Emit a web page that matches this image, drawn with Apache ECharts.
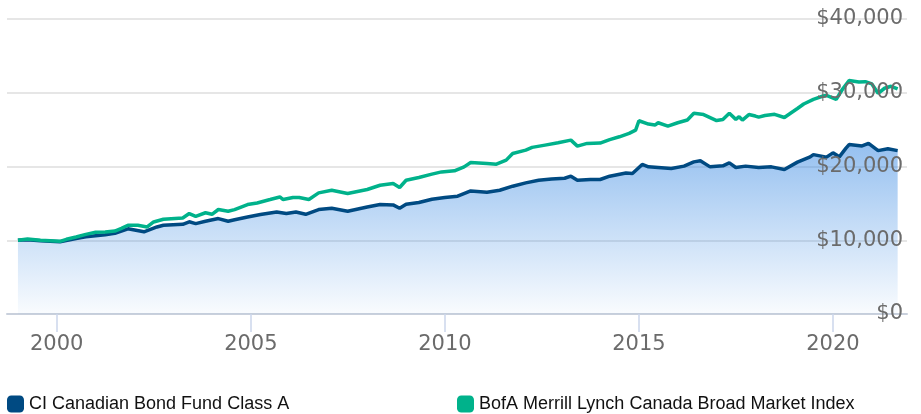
<!DOCTYPE html>
<html>
<head>
<meta charset="utf-8">
<script src="https://cdn.jsdelivr.net/npm/echarts@6/dist/echarts.min.js"></script>
<style>
  html, body { margin: 0; padding: 0; background: #fff; }
  #chart { width: 921px; height: 414px; }
</style>
</head>
<body>
<div id="chart"></div>
<script>
// Growth of $10,000 — fund vs. benchmark index
const seriesNames = ['CI Canadian Bond Fund Class A', 'BofA Merrill Lynch Canada Broad Market Index'];

const fundDates = ['1999-01','1999-04','1999-08','2000-02','2000-07','2000-10','2001-04','2001-07','2001-11','2002-04','2002-08','2002-10','2003-04','2003-06','2003-08','2003-11','2004-03','2004-06','2004-08','2004-12','2005-04','2005-09','2005-12','2006-03','2006-06','2006-10','2007-02','2007-07','2008-01','2008-05','2008-09','2008-11','2009-01','2009-05','2009-09','2010-01','2010-05','2010-09','2011-02','2011-06','2011-10','2012-02','2012-06','2012-10','2013-02','2013-04','2013-06','2013-10','2014-01','2014-04','2014-09','2014-11','2015-02','2015-04','2015-07','2015-11','2016-03','2016-06','2016-08','2016-11','2017-03','2017-05','2017-07','2017-10','2018-02','2018-06','2018-10','2019-02','2019-06','2019-07','2019-11','2020-01','2020-03','2020-05','2020-06','2020-10','2020-12','2021-03','2021-06','2021-09'];
const fundValues = [10000,10080,9920,9790,10220,10460,10760,10940,11550,11140,11800,12030,12160,12500,12260,12570,12940,12570,12780,13160,13480,13840,13620,13840,13520,14160,14340,13930,14510,14840,14790,14340,14880,15110,15560,15790,15970,16690,16510,16780,17330,17780,18140,18320,18410,18690,18140,18240,18240,18690,19130,19050,20280,19950,19870,19730,20050,20630,20770,19950,20090,20490,19870,20050,19870,19950,19600,20590,21310,21610,21270,21850,21310,22450,22970,22790,23130,22150,22400,22150];

const indexDates = ['1999-01','1999-04','1999-08','2000-02','2000-04','2000-07','2000-10','2001-01','2001-04','2001-07','2001-09','2001-11','2002-02','2002-05','2002-07','2002-10','2003-04','2003-06','2003-08','2003-11','2004-01','2004-03','2004-06','2004-08','2004-12','2005-03','2005-07','2005-10','2005-11','2006-02','2006-04','2006-07','2006-10','2007-02','2007-07','2008-01','2008-05','2008-09','2008-11','2009-01','2009-05','2009-09','2009-12','2010-04','2010-07','2010-09','2011-02','2011-05','2011-08','2011-10','2012-02','2012-04','2012-08','2012-12','2013-04','2013-06','2013-09','2014-01','2014-04','2014-07','2014-10','2014-12','2015-01','2015-04','2015-06','2015-07','2015-10','2016-01','2016-04','2016-06','2016-09','2017-01','2017-03','2017-05','2017-07','2017-08','2017-09','2017-11','2018-01','2018-02','2018-04','2018-07','2018-10','2018-12','2019-02','2019-04','2019-07','2019-10','2019-11','2020-02','2020-04','2020-06','2020-09','2020-11','2021-01','2021-03','2021-05','2021-07','2021-09'];
const indexValues = [10000,10170,9990,9850,10130,10440,10800,11080,11120,11250,11620,12030,12030,11800,12480,12840,13020,13620,13250,13730,13520,14170,13930,14160,14840,15060,15520,15870,15520,15790,15790,15520,16420,16780,16340,16880,17460,17690,17150,18140,18510,18960,19270,19410,19950,20550,20410,20320,20860,21770,22220,22590,22900,23210,23580,22760,23130,23170,23650,24030,24490,24940,26200,25750,25620,25930,25480,25930,26300,27210,27040,26230,26370,27210,26390,26750,26300,27040,26840,26700,26910,27070,26640,27250,27860,28470,29110,29560,29630,29110,30510,31670,31460,31500,31190,29930,30610,30880,30510];

const yearTicks = ['2000-01-01','2005-01-01','2010-01-01','2015-01-01','2020-01-01'];
const valueTicks = [0, 10000, 20000, 30000, 40000];

// dates are plotted on a numeric axis as UTC milliseconds
const toTime = s => Date.parse(s.length === 7 ? s + '-01T00:00:00Z' : s + 'T00:00:00Z');
const pairs = (dates, values) => dates.map((d, i) => [toTime(d), values[i]]);
const tickTimes = yearTicks.map(toTime);

const navy = '#004a82';
const green = '#00b28b';
const labelFont = '"DejaVu Sans", "Open Sans", sans-serif';

const chart = echarts.init(document.getElementById('chart'), null, { renderer: 'canvas' });

const yBase = {
  type: 'value',
  position: 'right',
  min: valueTicks[0],
  max: valueTicks[valueTicks.length - 1],
  interval: 10000,
  axisLine: { show: false },
  axisTick: { show: false }
};

const legendText = { fontFamily: '"Liberation Sans", Arial, sans-serif', fontSize: 18, color: '#111' };

chart.setOption({
  animation: false,
  backgroundColor: '#ffffff',
  grid: { left: 7, right: 14, top: 19, bottom: 100, containLabel: false },
  legend: [
    {
      data: [{ name: seriesNames[0], icon: 'roundRect' }],
      left: 7, top: 395, padding: 0,
      itemWidth: 17, itemHeight: 17,
      textStyle: legendText,
      selectedMode: false
    },
    {
      data: [{ name: seriesNames[1], icon: 'roundRect' }],
      left: 457, top: 395, padding: 0,
      itemWidth: 17, itemHeight: 17,
      textStyle: legendText,
      selectedMode: false
    }
  ],
  xAxis: {
    type: 'value',
    min: toTime('1998-09-20'),
    max: toTime('2021-11-28'),
    axisLine: { show: true, onZero: false, lineStyle: { color: '#c9d0dc', width: 2 } },
    axisTick: {
      show: true, length: 18, customValues: tickTimes,
      lineStyle: { color: '#ccd6eb', width: 1.5 }
    },
    axisLabel: {
      customValues: tickTimes,
      formatter: v => String(new Date(v).getUTCFullYear()),
      fontFamily: labelFont, fontSize: 21, color: '#6b6b6b', margin: 20
    },
    splitLine: { show: false }
  },
  yAxis: [
    Object.assign({}, yBase, {
      axisLabel: { show: false },
      splitLine: { show: true, lineStyle: { color: '#e6e6e6', width: 2 } }
    }),
    Object.assign({}, yBase, {
      z: 10,
      splitLine: { show: false },
      axisLabel: {
        inside: true, margin: 4,
        fontFamily: labelFont, fontSize: 21, color: '#6b6b6b',
        formatter: v => '$' + v.toLocaleString('en-US')
      }
    })
  ],
  series: [
    {
      name: seriesNames[0],
      type: 'line',
      yAxisIndex: 0,
      data: pairs(fundDates, fundValues),
      showSymbol: false,
      symbol: 'none',
      itemStyle: { color: navy },
      lineStyle: { color: navy, width: 3.5 },
      areaStyle: {
        color: new echarts.graphic.LinearGradient(0, 0, 0, 1, [
          { offset: 0, color: 'rgba(45,130,225,0.72)' },
          { offset: 1, color: 'rgba(45,130,225,0.04)' }
        ])
      },
      z: 3
    },
    {
      name: seriesNames[1],
      type: 'line',
      yAxisIndex: 0,
      data: pairs(indexDates, indexValues),
      showSymbol: false,
      symbol: 'none',
      itemStyle: { color: green },
      lineStyle: { color: green, width: 3.5 },
      z: 4
    }
  ]
});
</script>
</body>
</html>
